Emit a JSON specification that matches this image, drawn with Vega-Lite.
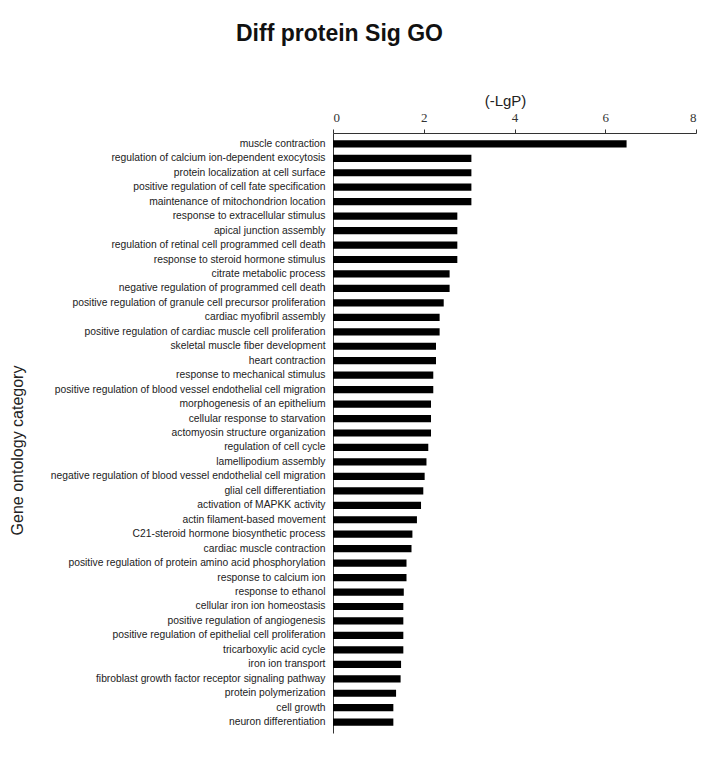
{
  "$schema": "https://vega.github.io/schema/vega-lite/v6.json",
  "autosize": "none",
  "width": 363,
  "height": 600,
  "padding": {"left": 333, "top": 133, "right": 31, "bottom": 25},
  "background": "white",
  "title": {
    "text": "Diff protein Sig GO",
    "anchor": "start",
    "frame": "group",
    "dx": -97,
    "dy": -43,
    "font": "Liberation Sans",
    "fontSize": 23,
    "fontWeight": "bold",
    "color": "#111"
  },
  "data": {
    "values": [
      {"term": "muscle contraction", "lgp": 6.47},
      {"term": "regulation of calcium ion-dependent exocytosis", "lgp": 3.05},
      {"term": "protein localization at cell surface", "lgp": 3.05},
      {"term": "positive regulation of cell fate specification", "lgp": 3.05},
      {"term": "maintenance of mitochondrion location", "lgp": 3.05},
      {"term": "response to extracellular stimulus", "lgp": 2.74},
      {"term": "apical junction assembly", "lgp": 2.74},
      {"term": "regulation of retinal cell programmed cell death", "lgp": 2.74},
      {"term": "response to steroid hormone stimulus", "lgp": 2.74},
      {"term": "citrate metabolic process", "lgp": 2.57},
      {"term": "negative regulation of programmed cell death", "lgp": 2.57},
      {"term": "positive regulation of granule cell precursor proliferation", "lgp": 2.44},
      {"term": "cardiac myofibril assembly", "lgp": 2.35},
      {"term": "positive regulation of cardiac muscle cell proliferation", "lgp": 2.35},
      {"term": "skeletal muscle fiber development", "lgp": 2.27},
      {"term": "heart contraction", "lgp": 2.27},
      {"term": "response to mechanical stimulus", "lgp": 2.21},
      {"term": "positive regulation of blood vessel endothelial cell migration", "lgp": 2.21},
      {"term": "morphogenesis of an epithelium", "lgp": 2.16},
      {"term": "cellular response to starvation", "lgp": 2.16},
      {"term": "actomyosin structure organization", "lgp": 2.16},
      {"term": "regulation of cell cycle", "lgp": 2.10},
      {"term": "lamellipodium assembly", "lgp": 2.06},
      {"term": "negative regulation of blood vessel endothelial cell migration", "lgp": 2.02},
      {"term": "glial cell differentiation", "lgp": 1.99},
      {"term": "activation of MAPKK activity", "lgp": 1.94},
      {"term": "actin filament-based movement", "lgp": 1.85},
      {"term": "C21-steroid hormone biosynthetic process", "lgp": 1.75},
      {"term": "cardiac muscle contraction", "lgp": 1.73},
      {"term": "positive regulation of protein amino acid phosphorylation", "lgp": 1.62},
      {"term": "response to calcium ion", "lgp": 1.62},
      {"term": "response to ethanol", "lgp": 1.56},
      {"term": "cellular iron ion homeostasis", "lgp": 1.55},
      {"term": "positive regulation of angiogenesis", "lgp": 1.55},
      {"term": "positive regulation of epithelial cell proliferation", "lgp": 1.55},
      {"term": "tricarboxylic acid cycle", "lgp": 1.55},
      {"term": "iron ion transport", "lgp": 1.50},
      {"term": "fibroblast growth factor receptor signaling pathway", "lgp": 1.49},
      {"term": "protein polymerization", "lgp": 1.39},
      {"term": "cell growth", "lgp": 1.33},
      {"term": "neuron differentiation", "lgp": 1.33}
    ]
  },
  "mark": {"type": "bar", "color": "black"},
  "encoding": {
    "y": {
      "field": "term",
      "type": "nominal",
      "sort": null,
      "scale": {"paddingInner": 0.5, "paddingOuter": 0.5},
      "axis": {
        "title": "Gene ontology category",
        "titleFont": "Liberation Sans",
        "titleFontSize": 16,
        "titleFontWeight": "normal",
        "titleColor": "#222",
        "titleX": -316,
        "titleY": 317,
        "titleAngle": -90,
        "titleAlign": "center",
        "titleBaseline": "middle",
        "labelFont": "Liberation Sans",
        "labelFontSize": 10.3,
        "labelColor": "#222",
        "labelPadding": 8,
        "labelLimit": 400,
        "ticks": false,
        "domainColor": "#333",
        "domainWidth": 1,
        "grid": false
      }
    },
    "x": {
      "field": "lgp",
      "type": "quantitative",
      "scale": {"domain": [0, 8], "nice": false},
      "axis": {
        "orient": "top",
        "values": [0, 2, 4, 6, 8],
        "title": "(-LgP)",
        "titleFont": "Liberation Sans",
        "titleFontSize": 15,
        "titleFontWeight": "normal",
        "titleColor": "#222",
        "titleX": 172,
        "titleY": -33,
        "titleAlign": "center",
        "titleBaseline": "middle",
        "labelFont": "Liberation Serif",
        "labelFontSize": 13,
        "labelColor": "#333",
        "labelPadding": 5,
        "tickSize": 4,
        "tickColor": "#333",
        "domainColor": "#333",
        "grid": false
      }
    }
  },
  "config": {"view": {"stroke": null}}
}
